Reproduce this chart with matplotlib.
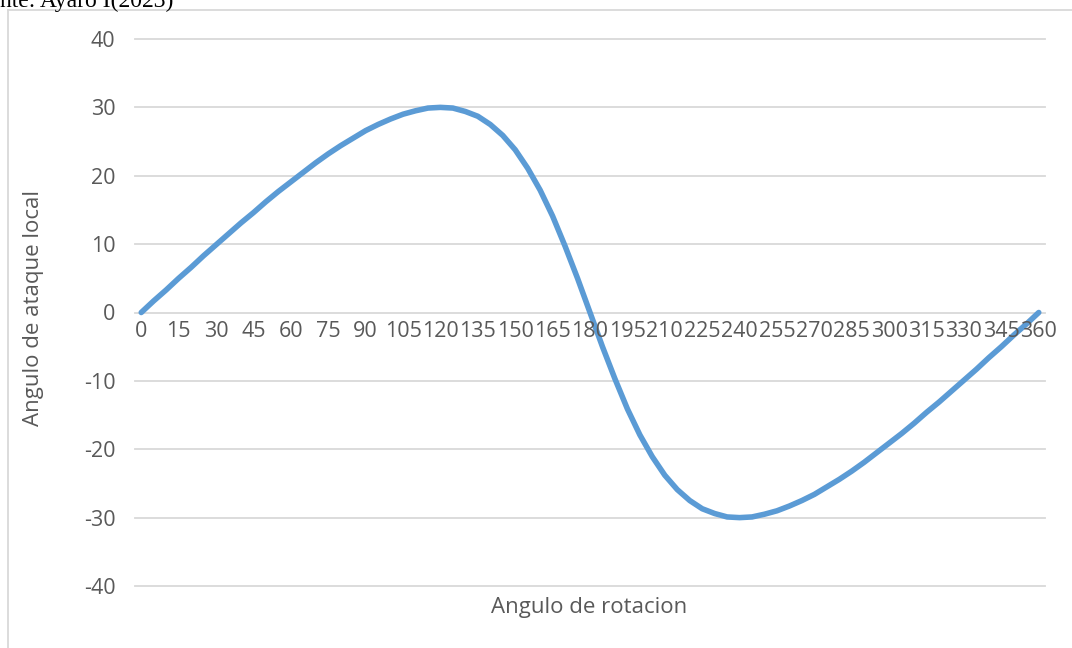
"""Angulo de ataque local vs angulo de rotacion (Excel-style line chart)."""

import matplotlib
matplotlib.use("Agg")
from matplotlib import pyplot as plt
from matplotlib.lines import Line2D

# rotation angle, every 5 degrees
angulo_rotacion = list(range(0, 361, 5))
# local angle of attack, 0..180 then mirrored (negative) 185..360
ataque_mitad = [0.0, 1.7, 3.3, 5.0, 6.6, 8.3, 9.9, 11.5, 13.1, 14.6, 16.2, 17.7,
                19.1, 20.5, 21.9, 23.2, 24.4, 25.5, 26.6, 27.5, 28.3, 29.0, 29.5,
                29.9, 30.0, 29.9, 29.4, 28.7, 27.5, 25.9, 23.8, 21.1, 17.9, 14.1,
                9.7, 5.0, 0.0]
ataque_local = ataque_mitad + [-v for v in ataque_mitad[-2::-1]]
x_labels = list(range(0, 361, 15))
y_ticks = [-40, -30, -20, -10, 0, 10, 20, 30, 40]

grid_color = "#D9D9D9"
text_color = "#595959"
font = "Open Sans"
fs = 15.5

fig = plt.figure(figsize=(10.72, 6.48), dpi=100)
ax = fig.add_axes([135 / 1072, (648 - 586) / 648, 910 / 1072, 547 / 648])

for y in y_ticks:
    ax.axhline(y, color=grid_color, lw=1.3, zorder=1, clip_on=False)

ax.plot(angulo_rotacion, ataque_local, color="#5B9BD5", lw=4,
        solid_capstyle="round", solid_joinstyle="round", zorder=3)

ax.set_xlim(-2.5, 362.5)
ax.set_ylim(-40, 40)
ax.set_xticks([])
ax.set_yticks(y_ticks)
ax.set_yticklabels([str(v) for v in y_ticks], fontsize=fs, color=text_color,
                   family=font)
ax.tick_params(axis="y", length=0, pad=14)
for s in ax.spines.values():
    s.set_visible(False)

# category labels sit under the zero line (axis crosses at 0)
for v in x_labels:
    ax.annotate(str(v), (v, 0), xytext=(0, -6), textcoords="offset points",
                ha="center", va="top", fontsize=fs, color=text_color,
                family=font, annotation_clip=False)

fig.text(589 / 1072, 1 - 607 / 648, "Angulo de rotacion", ha="center",
         va="center", fontsize=16, color=text_color, family=font)
fig.text(34 / 1072, 1 - 308 / 648, "Angulo de ataque local", ha="center",
         va="center", rotation=90, fontsize=16, color=text_color, family=font)

# chart border (cropped) and the cropped source note above it
fig.add_artist(Line2D([8 / 1072, 8 / 1072], [0, 1 - 10 / 648],
                      color=grid_color, lw=1.3))
fig.add_artist(Line2D([8 / 1072, 1], [1 - 10 / 648, 1 - 10 / 648],
                      color=grid_color, lw=1.3))
fig.text(0, 1 - 7 / 648, "nte: Ayaro I(2023)", ha="left", va="baseline",
         fontsize=17, family="Liberation Serif", color="black")

fig.savefig("out.png", dpi=100)
